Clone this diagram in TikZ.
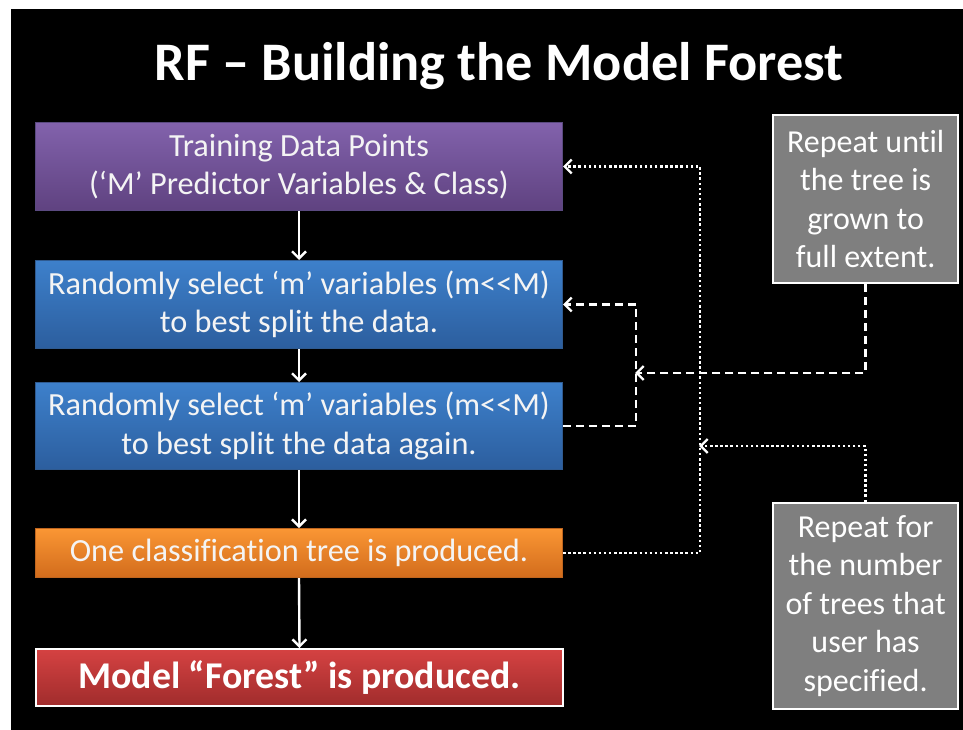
\documentclass[tikz,border=0pt]{standalone}
\usepackage{fontspec}
\setmainfont{Carlito}[Ligatures=NoCommon]
\usetikzlibrary{arrows.meta}
\definecolor{purpleT}{HTML}{8262AC}
\definecolor{purpleB}{HTML}{5F4280}
\definecolor{purpleE}{HTML}{5A4A80}
\definecolor{blueT}{HTML}{3D80CB}
\definecolor{blueB}{HTML}{2C5E9E}
\definecolor{blueE}{HTML}{2F5A90}
\definecolor{orangeT}{HTML}{FA9634}
\definecolor{orangeB}{HTML}{D26C1C}
\definecolor{orangeE}{HTML}{C0651E}
\definecolor{redT}{HTML}{D54242}
\definecolor{redB}{HTML}{A02C2C}
\definecolor{noteGray}{HTML}{7F7F7F}
\definecolor{txt}{HTML}{F4F4F4}
\begin{document}
\begin{tikzpicture}[x=1pt,y=-1pt,
  stepbox/.style={draw, line width=1pt, minimum width=527pt, anchor=north west,
    inner sep=0pt, align=center, text=txt, font=\fontsize{32.3}{38.5}\selectfont},
  notebox/.style={fill=noteGray, draw=white, line width=2.2pt, minimum width=185pt,
    anchor=north west, inner sep=0pt, align=center, text=white,
    font=\fontsize{32}{38.5}\selectfont},
  tip/.style={-{Straight Barb[length=7pt,width=14pt,line width=2.4pt]}},
  flow/.style={draw=white, line width=2.4pt, tip},
  dotline/.style={draw=white, line width=2.8pt, dash pattern=on 2.5pt off 2.6pt, tip},
  dashline/.style={draw=white, line width=2.8pt, dash pattern=on 8pt off 5pt, tip}]

% slide background
\fill[white] (0,0) rectangle (963,730);
\fill[black] (11,9) rectangle (963,730);
\useasboundingbox (0,0) rectangle (963,730);

% title
\node[text=white, font=\fontsize{54.3}{58}\selectfont\bfseries] (title) at (499,66)
  {RF – Building the Model Forest};

% main flow boxes
\node[stepbox, minimum height=88pt, draw=purpleE, top color=purpleT, bottom color=purpleB]
  (train) at (35,122) {Training Data Points\\(‘M’ Predictor Variables \& Class)};
\node[stepbox, minimum height=88pt, draw=blueE, top color=blueT, bottom color=blueB]
  (split1) at (35,260) {Randomly select ‘m’ variables (m<{}<M)\\to best split the data.};
\node[stepbox, minimum height=87pt, draw=blueE, top color=blueT, bottom color=blueB]
  (split2) at (35,382) {Randomly select ‘m’ variables (m<{}<M)\\to best split the data again.};
\node[stepbox, minimum height=49pt, draw=orangeE, top color=orangeT, bottom color=orangeB]
  (tree) at (35,528) {One classification tree is produced.};
\node[stepbox, minimum height=57pt, draw=white, line width=2pt, top color=redT, bottom color=redB,
  font=\fontsize{37.8}{42}\selectfont\bfseries, text=white]
  (forest) at (35,648) {Model “Forest” is produced.};

% note boxes
\node[notebox, minimum height=168pt] (rep1) at (772,114)
  {Repeat until\\the tree is\\grown to\\full extent.};
\node[notebox, minimum height=206pt] (rep2) at (772,502)
  {Repeat for\\the number\\of trees that\\user has\\specified.};

% flow arrows
\draw[flow] (train.south) -- (split1.north);
\draw[flow] (split1.south) -- (split2.north);
\draw[flow] (split2.south) -- (tree.north);
\draw[flow] (tree.south) -- (forest.north);

% outer loop (dotted)
\coordinate (dotjoin) at (699,446);
\draw[dotline] (tree.east) -- ++(137,0) |- (train.east);
\draw[dotline] (rep2.north) |- (dotjoin);

% inner loop (dashed)
\coordinate (dashjoin) at (635,373);
\draw[dashline] (split2.east) -- ++(73,0) |- (split1.east);
\draw[dashline] (rep1.south) |- (dashjoin);
\end{tikzpicture}
\end{document}
